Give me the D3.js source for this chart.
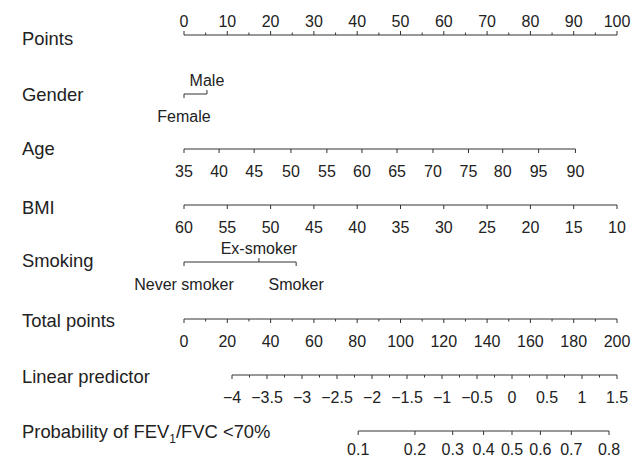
<!DOCTYPE html>
<html>
<head>
<meta charset="utf-8">
<script src="https://cdn.jsdelivr.net/npm/d3@7"></script>
<style>
  html, body { margin: 0; padding: 0; background: #fff; }
  svg { display: block; }
  text { font-family: "Liberation Sans", Arial, Helvetica, sans-serif; fill: #222; }
</style>
</head>
<body>
<svg id="chart" width="632" height="457"></svg>
<script>
// ---------------- data ----------------
const rowTitles = ["Points", "Gender", "Age", "BMI", "Smoking", "Total points", "Linear predictor", "Probability of FEV"];

const pointsTicks = [0, 10, 20, 30, 40, 50, 60, 70, 80, 90, 100];
const pointsMinor = [5, 15, 25, 35, 45, 55, 65, 75, 85, 95];

const genderLevels = ["Female", "Male"];
const genderPoints = [0, 5.3];

const ageLabels = ["35", "40", "45", "50", "55", "60", "65", "70", "75", "80", "95", "90"];
const agePoints = [0, 8.1, 16.2, 24.7, 33.0, 41.1, 49.2, 57.5, 65.7, 73.6, 81.9, 90.4];

const bmiLabels = ["60", "55", "50", "45", "40", "35", "30", "25", "20", "15", "10"];
const bmiPoints = [0, 10, 20, 30, 40, 50, 60, 70, 80, 90, 100];

const smokingLevels = ["Never smoker", "Ex-smoker", "Smoker"];
const smokingPoints = [0, 17.3, 25.9];

const totalTicks = [0, 20, 40, 60, 80, 100, 120, 140, 160, 180, 200];
const totalMinor = [10, 30, 50, 70, 90, 110, 130, 150, 170, 190];

const lpTicks = [-4, -3.5, -3, -2.5, -2, -1.5, -1, -0.5, 0, 0.5, 1, 1.5];
const lpMinor = [-3.75, -3.25, -2.75, -2.25, -1.75, -1.25, -0.75, -0.25, 0.25, 0.75, 1.25];

const probTicks = [0.1, 0.2, 0.3, 0.4, 0.5, 0.6, 0.7, 0.8];

// ---------------- layout ----------------
const svg = d3.select("#chart");
const X0 = 184, X1 = 617;
const xPoints = d3.scaleLinear().domain([0, 100]).range([X0, X1]);
const xTotal = d3.scaleLinear().domain([0, 200]).range([X0, X1]);
const xLP = d3.scaleLinear().domain([-4, 1.5]).range([232, 617]);
const logit = p => Math.log(p / (1 - p));
const xProb = p => xLP(logit(p));

const rowY = [35, 94, 149, 205, 262, 319, 375, 431];
const titleDy = [10, 7, 6, 9, 5, 8, 8, 7];
const stroke = "#333";
const TICK = 4, MINOR = 2.5;
const fmt = v => String(v).replace("-", "\u2212");

// titles
const titles = svg.append("g");
rowTitles.forEach((t, i) => {
  const tx = titles.append("text")
    .attr("x", 22).attr("y", rowY[i] + titleDy[i])
    .attr("font-size", 18.4).text(t);
  if (i === 7) {
    tx.append("tspan").attr("font-size", 12).attr("dy", 5).text("1");
    tx.append("tspan").attr("dy", -5).text("/FVC <70%");
  }
});

// generic axis drawer: positions in pixels
function drawAxis(y, pos, labels, dirs, minorPos, belowOff) {
  const off = belowOff || 27.5;
  const g = svg.append("g");
  const ext = d3.extent(pos);
  g.append("line").attr("x1", ext[0]).attr("x2", ext[1])
    .attr("y1", y).attr("y2", y).attr("stroke", stroke).attr("stroke-width", 1);
  pos.forEach((p, i) => {
    const d = dirs[i];  // -1 up, +1 down
    g.append("line").attr("x1", p).attr("x2", p)
      .attr("y1", y).attr("y2", y + d * TICK)
      .attr("stroke", stroke).attr("stroke-width", 1);
    g.append("text").attr("x", p)
      .attr("y", d < 0 ? y - 8 : y + off)
      .attr("text-anchor", "middle").attr("font-size", 16)
      .text(labels[i]);
  });
  (minorPos || []).forEach(p => {
    const d = dirs[0];
    g.append("line").attr("x1", p).attr("x2", p)
      .attr("y1", y).attr("y2", y + d * MINOR)
      .attr("stroke", stroke).attr("stroke-width", 1);
  });
}

// Points (labels above)
drawAxis(rowY[0], pointsTicks.map(xPoints), pointsTicks.map(fmt),
  pointsTicks.map(() => -1), pointsMinor.map(xPoints));
// Gender: alternate below/above
drawAxis(rowY[1], genderPoints.map(xPoints), genderLevels, [1, -1]);
// Age
drawAxis(rowY[2], agePoints.map(xPoints), ageLabels, agePoints.map(() => 1));
// BMI
drawAxis(rowY[3], bmiPoints.map(xPoints), bmiLabels, bmiPoints.map(() => 1));
// Smoking
drawAxis(rowY[4], smokingPoints.map(xPoints), smokingLevels, [1, -1, 1]);
// Total points
drawAxis(rowY[5], totalTicks.map(xTotal), totalTicks.map(fmt),
  totalTicks.map(() => 1), totalMinor.map(xTotal));
// Linear predictor
drawAxis(rowY[6], lpTicks.map(xLP), lpTicks.map(fmt),
  lpTicks.map(() => 1), lpMinor.map(xLP));
// Probability
drawAxis(rowY[7], probTicks.map(xProb), probTicks.map(fmt),
  probTicks.map(() => 1), null, 23.5);
</script>
</body>
</html>
